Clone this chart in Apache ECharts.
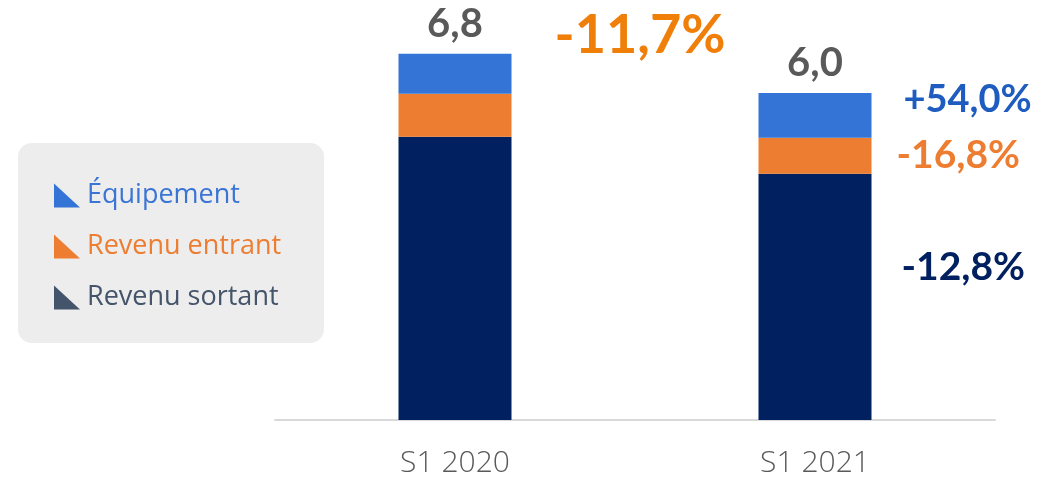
<!DOCTYPE html>
<html>
<head>
<meta charset="utf-8">
<script src="https://cdn.jsdelivr.net/npm/echarts@6/dist/echarts.min.js"></script>
<style>
  html, body { margin: 0; padding: 0; background: #fff; }
  #chart { width: 1048px; height: 478px; }
</style>
</head>
<body>
<div id="chart"></div>
<script>
// data
const categories = ['S1 2020', 'S1 2021'];
const revenuSortant = [5.26, 4.57];
const revenuEntrant = [0.80, 0.67];
const equipement = [0.74, 0.83];
const totals = ['6,8', '6,0'];
const totalChange = '-11,7%';
const changeSortant = '-12,8%';
const changeEntrant = '-16,8%';
const changeEquipement = '+54,0%';

const NUM_FONT = 'Lato, "Noto Sans", sans-serif';
const TXT_FONT = '"Open Sans", "Noto Sans", sans-serif';

const C_BLUE = '#3374D6';
const C_ORANGE = '#ED7D31';
const C_NAVY = '#002060';

function pctLabel(text, color, dist, dy, size) {
    return {
        show: true,
        position: 'right',
        distance: dist,
        offset: [0, dy],
        formatter: text,
        color: color,
        fontFamily: NUM_FONT,
        fontWeight: 'bold',
        fontSize: size || 39,
    };
}

const chart = echarts.init(document.getElementById('chart'), null, { renderer: 'canvas' });

chart.setOption({
    animation: false,
    backgroundColor: '#fff',
    grid: { left: 275, right: 53, top: 43, bottom: 57 },
    graphic: [{
        type: 'rect',
        left: 18, top: 143, z: -1,
        shape: { width: 306, height: 200, r: 14 },
        style: { fill: '#EDEDED' },
    }],
    legend: {
        orient: 'vertical',
        left: 49, top: 177,
        itemWidth: 26, itemHeight: 24, itemGap: 24,
        icon: 'path://M0,0 L0,24 L26,24 Z',
        textStyle: { fontFamily: TXT_FONT, fontSize: 27, lineHeight: 24, padding: [0, 0, 0, 2] },
        data: [
            { name: 'Équipement', itemStyle: { color: C_BLUE }, textStyle: { color: '#3A75D6' } },
            { name: 'Revenu entrant', itemStyle: { color: C_ORANGE }, textStyle: { color: '#ED7D31' } },
            { name: 'Revenu sortant', itemStyle: { color: '#44546A' }, textStyle: { color: '#44546A' } },
        ],
    },
    xAxis: {
        type: 'category',
        data: categories,
        axisTick: { show: false },
        axisLine: { lineStyle: { color: '#D9D9D9', width: 2 } },
        axisLabel: { color: '#595959', fontFamily: TXT_FONT, fontWeight: 300, fontSize: 30, margin: 28 },
    },
    yAxis: {
        type: 'value', min: 0, max: 7,
        show: false,
        splitLine: { show: false },
    },
    series: [
        {
            name: 'Revenu sortant', type: 'bar', stack: 'total', barWidth: 113,
            itemStyle: { color: C_NAVY },
            data: [
                revenuSortant[0],
                { value: revenuSortant[1], label: pctLabel(changeSortant, '#002060', 30, -30) },
            ],
        },
        {
            name: 'Revenu entrant', type: 'bar', stack: 'total',
            itemStyle: { color: C_ORANGE },
            data: [
                { value: revenuEntrant[0], label: pctLabel(totalChange, '#F07F09', 43, -80, 54) },
                { value: revenuEntrant[1], label: pctLabel(changeEntrant, '#ED7D31', 25, 0) },
            ],
        },
        {
            name: 'Équipement', type: 'bar', stack: 'total',
            itemStyle: { color: C_BLUE },
            data: [
                equipement[0],
                { value: equipement[1], label: pctLabel(changeEquipement, '#1F5CC0', 32, -16, 38) },
            ],
        },
        {
            name: 'Total', type: 'bar', stack: 'total', silent: true,
            data: [0, 0],
            label: {
                show: true, position: 'top', distance: 10,
                formatter: p => totals[p.dataIndex],
                color: '#595959', fontFamily: NUM_FONT, fontWeight: 'bold', fontSize: 40,
            },
        },
    ],
});
</script>
</body>
</html>
